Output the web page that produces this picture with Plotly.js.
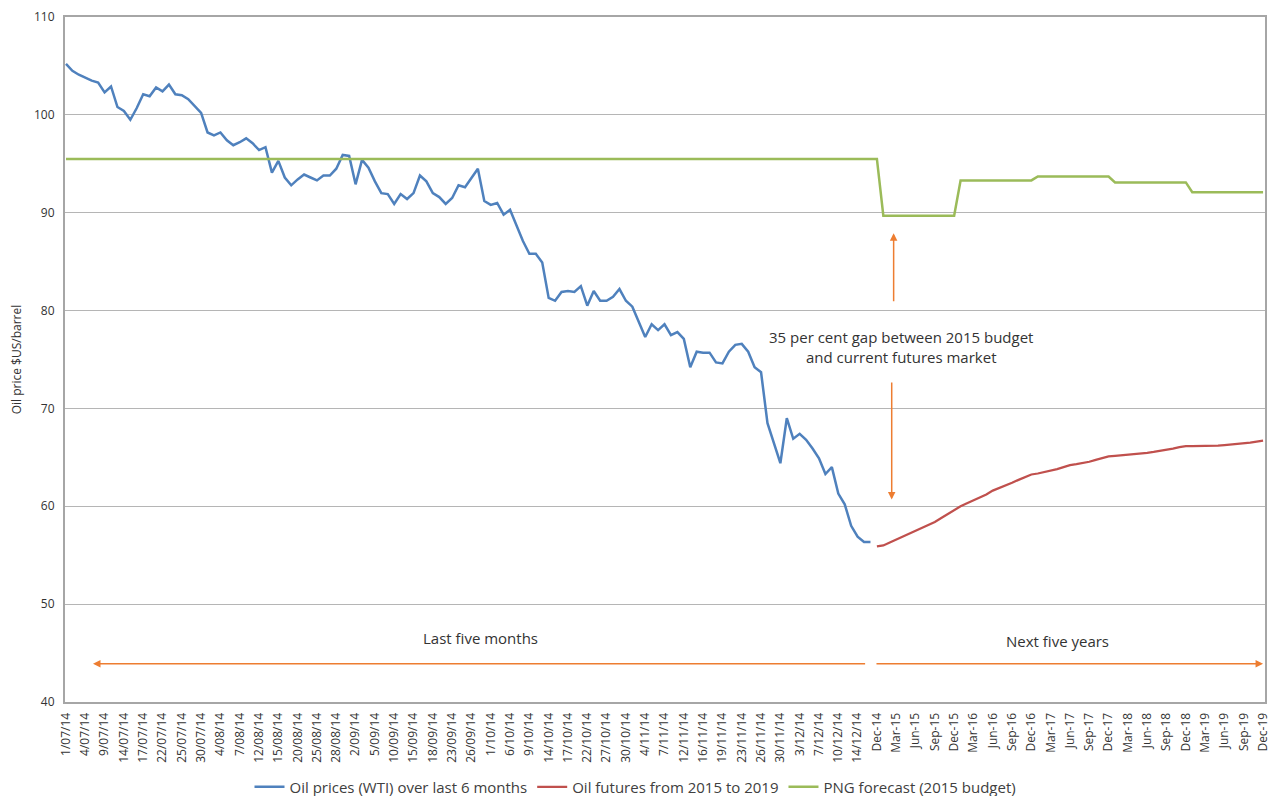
<!DOCTYPE html>
<html>
<head>
<meta charset="utf-8">
<script src="https://cdn.plot.ly/plotly-3.0.1.min.js"></script>
<style>
  html, body { margin: 0; padding: 0; background: #ffffff; }
  #chart { width: 1271px; height: 796px; }
</style>
</head>
<body>
<div id="chart"></div>
<script>
// Tick labels of the category axis (one label every third category)
const tickLabels = [
  "1/07/14","4/07/14","9/07/14","14/07/14","17/07/14","22/07/14","25/07/14","30/07/14",
  "4/08/14","7/08/14","12/08/14","15/08/14","20/08/14","25/08/14","28/08/14",
  "2/09/14","5/09/14","10/09/14","15/09/14","18/09/14","23/09/14","26/09/14",
  "1/10/14","6/10/14","9/10/14","14/10/14","17/10/14","22/10/14","27/10/14","30/10/14",
  "4/11/14","7/11/14","12/11/14","16/11/14","19/11/14","23/11/14","26/11/14","30/11/14",
  "3/12/14","7/12/14","10/12/14","14/12/14",
  "Dec-14","Mar-15","Jun-15","Sep-15","Dec-15","Mar-16","Jun-16","Sep-16","Dec-16",
  "Mar-17","Jun-17","Sep-17","Dec-17","Mar-18","Jun-18","Sep-18","Dec-18",
  "Mar-19","Jun-19","Sep-19","Dec-19"
];
const labelStep = 3;

// Oil prices (WTI), daily, last six months (US$/barrel)
const wtiDaily = [
  105.2,104.5,104.1,103.8,103.5,103.3,102.3,102.9,100.8,100.4,
  99.5,100.7,102.1,101.9,102.8,102.4,103.1,102.1,102.0,101.6,
  100.9,100.2,98.2,97.9,98.2,97.4,96.9,97.2,97.6,97.1,
  96.4,96.7,94.1,95.3,93.6,92.8,93.4,93.9,93.6,93.3,
  93.8,93.8,94.5,95.9,95.8,92.9,95.4,94.6,93.2,92.0,
  91.9,90.9,91.9,91.4,92.0,93.8,93.2,92.0,91.6,90.9,
  91.5,92.8,92.6,93.6,94.5,91.2,90.8,91.0,89.8,90.3,
  88.7,87.1,85.8,85.8,84.9,81.3,81.0,81.9,82.0,81.9,
  82.5,80.5,82.0,81.0,81.0,81.4,82.2,81.0,80.4,78.8,
  77.3,78.6,78.0,78.6,77.5,77.8,77.1,74.2,75.8,75.7,
  75.7,74.7,74.6,75.8,76.5,76.6,75.8,74.2,73.7,68.5,
  66.4,64.4,69.0,66.9,67.4,66.8,65.9,64.9,63.3,64.0,
  61.3,60.2,58.0,56.9,56.35,56.35
];

// Oil futures, monthly Dec-14 to Dec-19 (US$/barrel)
const futuresMonthly = [
  55.9,
  56.0,56.3,56.6,56.9,57.2,57.5,57.8,58.1,58.4,58.8,59.2,59.6,
  60.0,60.3,60.6,60.9,61.2,61.6,61.85,62.1,62.4,62.7,63.0,63.25,
  63.35,63.5,63.6,63.8,64.0,64.2,64.3,64.4,64.55,64.75,64.95,65.1,
  65.15,65.2,65.25,65.3,65.4,65.45,65.55,65.65,65.75,65.9,66.05,66.15,
  66.15,66.15,66.15,66.2,66.2,66.25,66.3,66.35,66.4,66.5,66.6,66.7
];

// PNG forecast (2015 budget) over the daily period
const budgetDaily = [
  95.5,95.5,95.5,95.5,95.5,95.5,95.5,95.5,95.5,95.5,95.5,95.5,95.5,95.5,95.5,95.5,95.5,95.5,95.5,95.5,95.5,
  95.5,95.5,95.5,95.5,95.5,95.5,95.5,95.5,95.5,95.5,95.5,95.5,95.5,95.5,95.5,95.5,95.5,95.5,95.5,95.5,95.5,
  95.5,95.5,95.5,95.5,95.5,95.5,95.5,95.5,95.5,95.5,95.5,95.5,95.5,95.5,95.5,95.5,95.5,95.5,95.5,95.5,95.5,
  95.5,95.5,95.5,95.5,95.5,95.5,95.5,95.5,95.5,95.5,95.5,95.5,95.5,95.5,95.5,95.5,95.5,95.5,95.5,95.5,95.5,
  95.5,95.5,95.5,95.5,95.5,95.5,95.5,95.5,95.5,95.5,95.5,95.5,95.5,95.5,95.5,95.5,95.5,95.5,95.5,95.5,95.5,
  95.5,95.5,95.5,95.5,95.5,95.5,95.5,95.5,95.5,95.5,95.5,95.5,95.5,95.5,95.5,95.5,95.5,95.5,95.5,95.5,95.5
];
// PNG forecast (2015 budget), monthly Dec-14 to Dec-19
const budgetMonthly = [
  95.5,
  89.7,89.7,89.7,89.7,89.7,89.7,89.7,89.7,89.7,89.7,89.7,89.7,
  93.3,93.3,93.3,93.3,93.3,93.3,93.3,93.3,93.3,93.3,93.3,93.3,
  93.7,93.7,93.7,93.7,93.7,93.7,93.7,93.7,93.7,93.7,93.7,93.7,
  93.1,93.1,93.1,93.1,93.1,93.1,93.1,93.1,93.1,93.1,93.1,93.1,
  92.1,92.1,92.1,92.1,92.1,92.1,92.1,92.1,92.1,92.1,92.1,92.1
];

const seriesNames = [
  "Oil prices (WTI) over last 6 months",
  "Oil futures from 2015 to 2019",
  "PNG forecast (2015 budget)"
];

// category positions
const nDaily = wtiDaily.length;
const dailyX = wtiDaily.map((_, i) => i);
const monthlyX = futuresMonthly.map((_, i) => nDaily + i);
const budgetValues = budgetDaily.concat(budgetMonthly);
const budgetX = budgetValues.map((_, i) => i);
const tickVals = tickLabels.map((_, i) => i * labelStep);
const lastX = budgetX[budgetX.length - 1];

const FONT = "Open Sans, Noto Sans, sans-serif";
const ORANGE = "#ED7D31";

const traces = [
  { x: dailyX, y: wtiDaily, name: seriesNames[0], type: "scatter", mode: "lines",
    line: { color: "#4F81BD", width: 2.5 } },
  { x: monthlyX, y: futuresMonthly, name: seriesNames[1], type: "scatter", mode: "lines",
    line: { color: "#C0504D", width: 2.25 } },
  { x: budgetX, y: budgetValues, name: seriesNames[2], type: "scatter", mode: "lines",
    line: { color: "#9BBB59", width: 2.5 } }
];

const arrowBase = { text: "", showarrow: true, arrowhead: 2, arrowsize: 1, arrowwidth: 1.5,
  arrowcolor: ORANGE, axref: "x", ayref: "y", xref: "x", yref: "y" };

const annotations = [
  { xref: "x", yref: "y", x: 129.7, y: 76.3, showarrow: false,
    text: "35 per cent gap between 2015 budget<br>and current futures market",
    font: { family: FONT, size: 15, color: "#333333" }, align: "center" },
  Object.assign({}, arrowBase, { x: 128.6, y: 87.9, ax: 128.6, ay: 80.8 }),
  Object.assign({}, arrowBase, { x: 128.3, y: 60.7, ax: 128.3, ay: 72.8 }),
  { xref: "x", yref: "y", x: 64.4, y: 46.5, showarrow: false, text: "Last five months",
    font: { family: FONT, size: 15, color: "#333333" } },
  { xref: "x", yref: "y", x: 154, y: 46.2, showarrow: false, text: "Next five years",
    font: { family: FONT, size: 15, color: "#333333" } },
  Object.assign({}, arrowBase, { x: 4.2, y: 43.9, ax: 124.4, ay: 43.9 }),
  Object.assign({}, arrowBase, { x: lastX, y: 43.9, ax: 125.7, ay: 43.9 })
];

const layout = {
  width: 1271, height: 796,
  margin: { l: 65, r: 6, t: 17, b: 94, pad: 0 },
  paper_bgcolor: "#ffffff", plot_bgcolor: "#ffffff",
  font: { family: FONT, size: 12, color: "#333333" },
  showlegend: true,
  hovermode: false,
  legend: { orientation: "h", x: 0.5, xanchor: "center", xref: "container",
    y: 0.0113, yanchor: "middle", yref: "container",
    font: { family: FONT, size: 15, color: "#404040" }, itemwidth: 30 },
  xaxis: {
    type: "linear", range: [-0.15, lastX + 0.3], automargin: false,
    tickmode: "array", tickvals: tickVals, ticktext: tickLabels, tickangle: -90,
    tickfont: { family: FONT, size: 12, color: "#333333" },
    showgrid: false, zeroline: false, showline: true, linecolor: "#a6a6a6", linewidth: 2,
    mirror: true, ticks: "outside", ticklen: 4, tickcolor: "rgba(0,0,0,0)"
  },
  yaxis: {
    range: [40, 110], dtick: 10, automargin: false,
    tickfont: { family: FONT, size: 12, color: "#333333" },
    showgrid: true, gridcolor: "#b5b5b5", gridwidth: 1, zeroline: false,
    showline: true, linecolor: "#a6a6a6", linewidth: 2, mirror: true,
    ticks: "outside", ticklen: 6, tickcolor: "rgba(0,0,0,0)",
    title: { text: "Oil price $US/barrel", font: { family: FONT, size: 12, color: "#333333" }, standoff: 10 }
  },
  annotations: annotations
};

Plotly.newPlot("chart", traces, layout, { displayModeBar: false, staticPlot: true });
</script>
</body>
</html>
